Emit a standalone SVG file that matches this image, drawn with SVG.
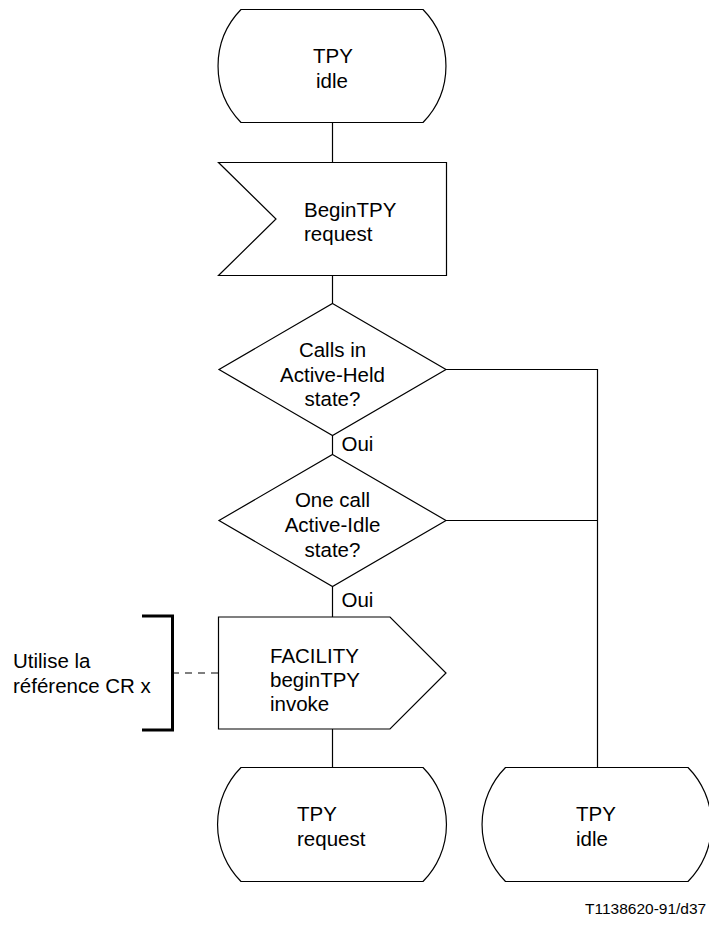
<svg xmlns="http://www.w3.org/2000/svg" width="709" height="926" viewBox="0 0 709 926">
<style>
.s{fill:#fff;stroke:#000;stroke-width:1.2}
.c{fill:none;stroke:#000;stroke-width:1.2}
text{font-family:"Liberation Sans",Arial,sans-serif;font-size:20.5px;fill:#000}
.m{text-anchor:middle}
</style>
<g id="connectors">
<line class="c" x1="332.5" y1="122.5" x2="332.5" y2="162.5"/>
<line class="c" x1="332.5" y1="275.5" x2="332.5" y2="303.5"/>
<line class="c" x1="332.5" y1="435.5" x2="332.5" y2="454.5"/>
<line class="c" x1="332.5" y1="586.5" x2="332.5" y2="617"/>
<line class="c" x1="332.5" y1="729" x2="332.5" y2="767.5"/>
<polyline class="c" points="446,369.5 597.5,369.5 597.5,767.5"/>
<line class="c" x1="446" y1="520.5" x2="597.5" y2="520.5"/>
<line class="c" x1="172" y1="673" x2="218.5" y2="673" stroke-dasharray="7,6"/>
</g>
<g id="state-top">
<path class="s" d="M241,9.5 H423 A81,81 0 0 1 423,122.5 H241 A81,81 0 0 1 241,9.5 Z"/>
<text x="313" y="62.5">TPY</text>
<text x="316" y="87.5">idle</text>
</g>
<g id="input-begintpy">
<path class="s" d="M218.5,162.5 H446.5 V275.5 H218.5 L276,219 Z"/>
<text x="304" y="217">BeginTPY</text>
<text x="304" y="241">request</text>
</g>
<g id="decision-1">
<path class="s" d="M332.5,303.5 L446,369.5 L332.5,435.5 L219,369.5 Z"/>
<text class="m" x="332.5" y="357">Calls in</text>
<text class="m" x="332.5" y="381.5">Active-Held</text>
<text class="m" x="332.5" y="406">state?</text>
</g>
<text x="341.5" y="451">Oui</text>
<g id="decision-2">
<path class="s" d="M332.5,454.5 L446,520.5 L332.5,586.5 L219,520.5 Z"/>
<text class="m" x="332.5" y="507">One call</text>
<text class="m" x="332.5" y="532">Active-Idle</text>
<text class="m" x="332.5" y="557">state?</text>
</g>
<text x="341.5" y="607">Oui</text>
<g id="output-facility">
<path class="s" d="M218.5,617 H390 L446,673 L390,729 H218.5 Z"/>
<text x="270" y="662.5">FACILITY</text>
<text x="270" y="686.5">beginTPY</text>
<text x="270" y="710.5">invoke</text>
</g>
<g id="comment">
<polyline fill="none" stroke="#000" stroke-width="3" points="142,616 172.5,616 172.5,730 142,730"/>
<text x="13" y="667.5">Utilise la</text>
<text x="13" y="693">référence CR x</text>
</g>
<g id="state-request">
<path class="s" d="M241,767.5 H423 A81,81 0 0 1 423,881.5 H241 A81,81 0 0 1 241,767.5 Z"/>
<text x="297" y="821">TPY</text>
<text x="297" y="846">request</text>
</g>
<g id="state-idle">
<path class="s" d="M505.5,767.5 H688 A81,81 0 0 1 688,881.5 H505.5 A81,81 0 0 1 505.5,767.5 Z"/>
<text x="576" y="821">TPY</text>
<text x="576" y="846">idle</text>
</g>
<text x="585" y="914" style="font-size:15.5px">T1138620-91/d37</text>
</svg>
